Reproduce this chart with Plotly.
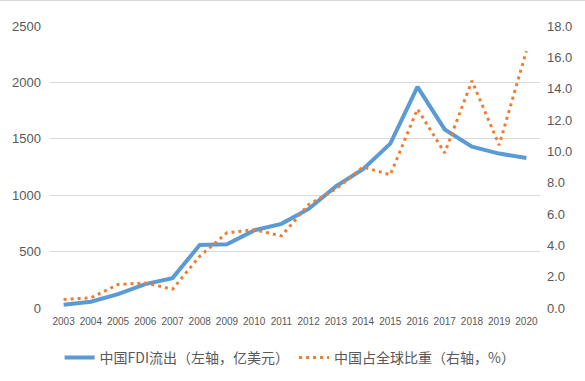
import plotly.graph_objects as go

years = [str(y) for y in range(2003, 2021)]
fdi_outflow = [28.5, 55, 123, 212, 265, 559, 565, 688, 746, 878, 1078, 1231, 1457, 1961, 1583, 1430, 1369, 1329]
global_share = [0.55, 0.65, 1.5, 1.6, 1.2, 3.3, 4.8, 5.0, 4.6, 6.6, 7.6, 9.0, 8.5, 12.7, 9.9, 14.5, 10.4, 16.4]

name_fdi = "中国FDI流出（左轴，亿美元）"
name_share = "中国占全球比重（右轴，%）"

W, H = 585, 381
ML, MR, MT, MB = 50, 45, 26, 73
pw, ph = W - ML - MR, H - MT - MB

fig = go.Figure()
fig.add_trace(go.Scatter(x=years, y=fdi_outflow, name=name_fdi, mode="lines",
                         line=dict(color="#5B9BD5", width=4)))
fig.add_trace(go.Scatter(x=years, y=global_share, name=name_share, mode="lines", yaxis="y2",
                         line=dict(color="#ED7D31", width=3, dash="3px,4px")))

tick_font = dict(family="Liberation Sans, Arial, sans-serif", size=13, color="#595959")
fig.update_layout(
    width=W, height=H,
    margin=dict(l=ML, r=MR, t=MT, b=MB, autoexpand=False),
    paper_bgcolor="white", plot_bgcolor="white",
    showlegend=True,
    legend=dict(orientation="h", x=0.49, xanchor="center", y=-0.177, yanchor="middle",
                font=dict(family="Noto Sans CJK SC, sans-serif", size=14, color="#595959"),
                itemwidth=30, tracegroupgap=0),
    xaxis=dict(type="category", range=[-0.5, 17.5], showgrid=False, ticks="",
               tickfont=dict(family="Liberation Sans, Arial, sans-serif", size=10, color="#595959"),
               showline=False, ticklabelstandoff=6),
    yaxis=dict(range=[0, 2500], dtick=500, showgrid=True, gridcolor="#D9D9D9", gridwidth=1,
               zeroline=False, tickfont=tick_font, ticks="", ticklabelstandoff=8),
    yaxis2=dict(range=[0, 18], dtick=2, tickformat=".1f", overlaying="y", side="right",
                showgrid=False, zeroline=False, tickfont=tick_font, ticks="", ticklabelstandoff=6),
    shapes=[dict(type="line", xref="paper", yref="paper",
                 x0=-ML / pw, x1=(pw + MR) / pw,
                 y0=(ph + MT - 0.5) / ph, y1=(ph + MT - 0.5) / ph,
                 line=dict(color="#D9D9D9", width=1))],
)
fig.write_html("out.html", config={"displayModeBar": False},
               post_script="document.body.style.margin='0';")
